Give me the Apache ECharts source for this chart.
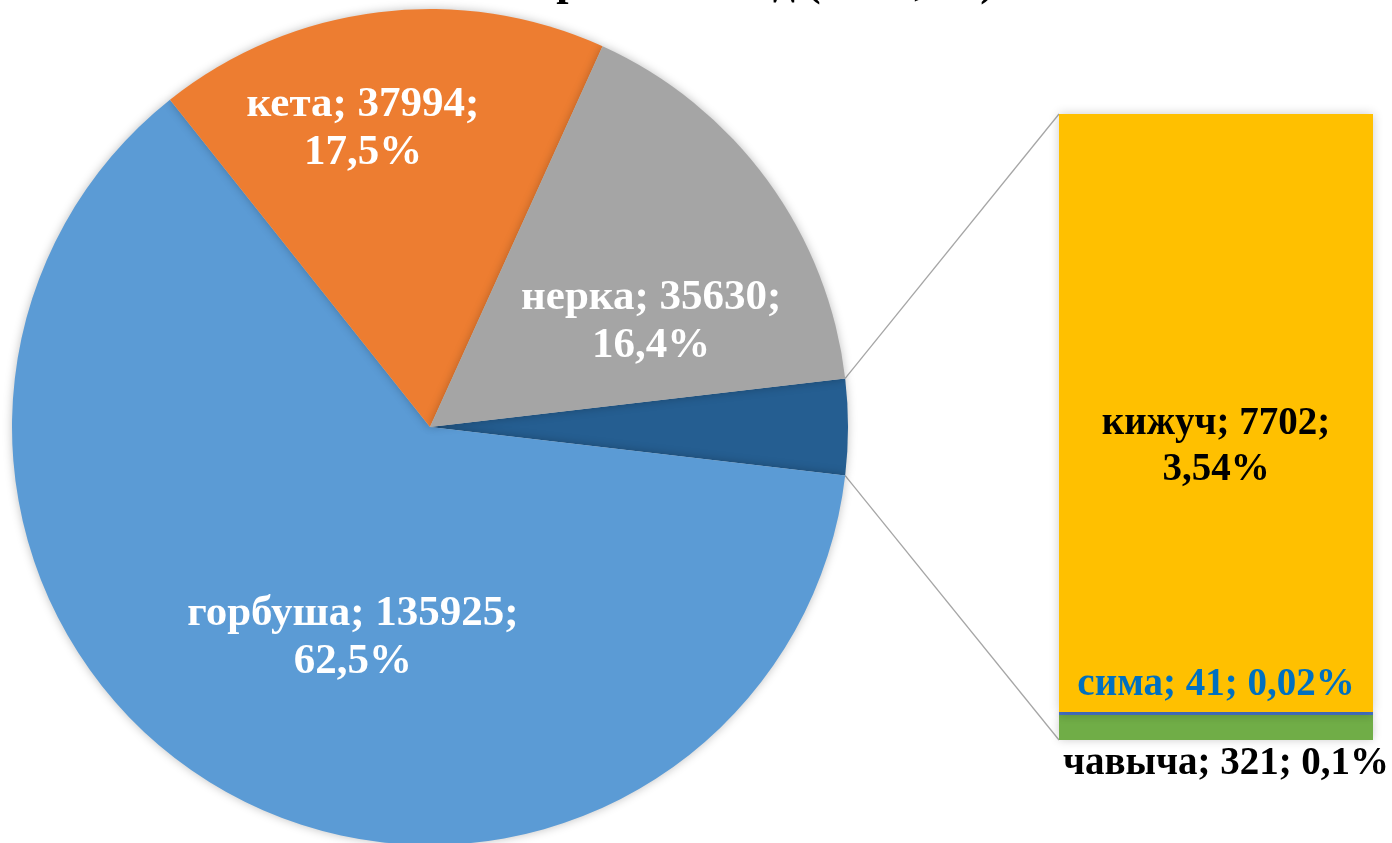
<!DOCTYPE html>
<html>
<head>
<meta charset="utf-8">
<script src="https://cdn.jsdelivr.net/npm/echarts@6/dist/echarts.min.js"></script>
<style>
  html, body { margin: 0; padding: 0; background: #fff; }
  #chart { width: 1392px; height: 843px; }
</style>
</head>
<body>
<div id="chart"></div>
<script>
// main pie: 'other' slice first, it is broken out into the bar
const pieNames = ['прочие', 'горбуша', 'кета', 'нерка']
const pieValues = [8064, 135925, 37994, 35630]
const piePercents = ['', '62,5%', '17,5%', '16,4%']

// bar of the "other" slice, bottom to top
const barNames = ['чавыча', 'сима', 'кижуч']
const barValues = [321, 41, 7702]
const barPercents = ['0,1%', '0,02%', '3,54%']

const titleText = 'Вылов рыбы за год (тонн, %)'

const font = '"Liberation Serif", "Times New Roman", serif'
const pieColors = ['#255E91', '#5B9BD5', '#ED7D31', '#A5A5A5']
const barColors = ['#70AD47', '#4472C4', '#FFC000']
// shift of inside labels (Excel "best fit")
const labelShift = [[0, 0], [26, 26], [-41, -88], [50, 20]]
const barLabelOffset = [[10, -5], [0, 0], [0, 34]]

const center = [430, 427]
const radius = 418
const total = pieValues.reduce((a, b) => a + b, 0)
const otherAngle = pieValues[0] / total * 360
const startAngle = otherAngle / 2

const gridBox = { left: 1059, top: 114, width: 314, height: 626 }

const chart = echarts.init(document.getElementById('chart'))

const barSeries = barNames.map((name, i) => ({
  name,
  type: 'bar',
  stack: 'other',
  barWidth: '100%',
  data: [barValues[i]],
  itemStyle: { color: barColors[i], shadowBlur: 10, shadowColor: 'rgba(0,0,0,0.2)' },
  emphasis: { disabled: true },
  label: {
    show: true,
    fontFamily: font,
    fontWeight: 'bold',
    fontSize: 39,
    lineHeight: 46,
    color: i === 1 ? '#0070C0' : '#000',
    position: i === 0 ? 'bottom' : (i === 1 ? 'top' : 'inside'),
    distance: i === 0 ? 6 : 4,
    offset: barLabelOffset[i],
    formatter: () => i === 2
      ? name + '; ' + barValues[i] + ';\n' + barPercents[i]
      : name + '; ' + barValues[i] + '; ' + barPercents[i]
  }
}))

// connector lines from the "other" slice edges to the bar corners
const rad = a => a * Math.PI / 180
const edgeX = center[0] + radius * Math.cos(rad(startAngle))
const edgeDy = radius * Math.sin(rad(startAngle))
const lineStyle = { stroke: '#A6A6A6', lineWidth: 1.3 }

const option = {
  animation: false,
  title: {
    text: titleText,
    right: 392,
    top: -43,
    textStyle: { fontFamily: font, fontWeight: 'bold', fontSize: 44, color: '#000' }
  },
  grid: gridBox,
  xAxis: { type: 'category', data: ['прочие'], show: false },
  yAxis: { type: 'value', min: 0, max: pieValues[0], show: false },
  graphic: [
    { type: 'line', z: 0, style: lineStyle,
      shape: { x1: edgeX, y1: center[1] - edgeDy, x2: gridBox.left, y2: gridBox.top } },
    { type: 'line', z: 0, style: lineStyle,
      shape: { x1: edgeX, y1: center[1] + edgeDy, x2: gridBox.left, y2: gridBox.top + gridBox.height } }
  ],
  series: [
    {
      type: 'pie',
      center: center,
      radius: radius,
      startAngle: startAngle,
      clockwise: true,
      data: pieNames.map((name, i) => ({ name, value: pieValues[i] })),
      itemStyle: {
        color: p => pieColors[p.dataIndex],
        shadowBlur: 10,
        shadowColor: 'rgba(0,0,0,0.25)'
      },
      emphasis: { disabled: true },
      label: {
        show: true,
        position: 'inside',
        fontFamily: font,
        fontWeight: 'bold',
        fontSize: 43,
        lineHeight: 48,
        color: '#fff',
        formatter: p => p.dataIndex === 0 ? '' : p.name + '; ' + p.value + ';\n' + piePercents[p.dataIndex]
      },
      labelLayout: p => ({ dx: labelShift[p.dataIndex][0], dy: labelShift[p.dataIndex][1] })
    },
    ...barSeries
  ]
}
chart.setOption(option)
</script>
</body>
</html>
